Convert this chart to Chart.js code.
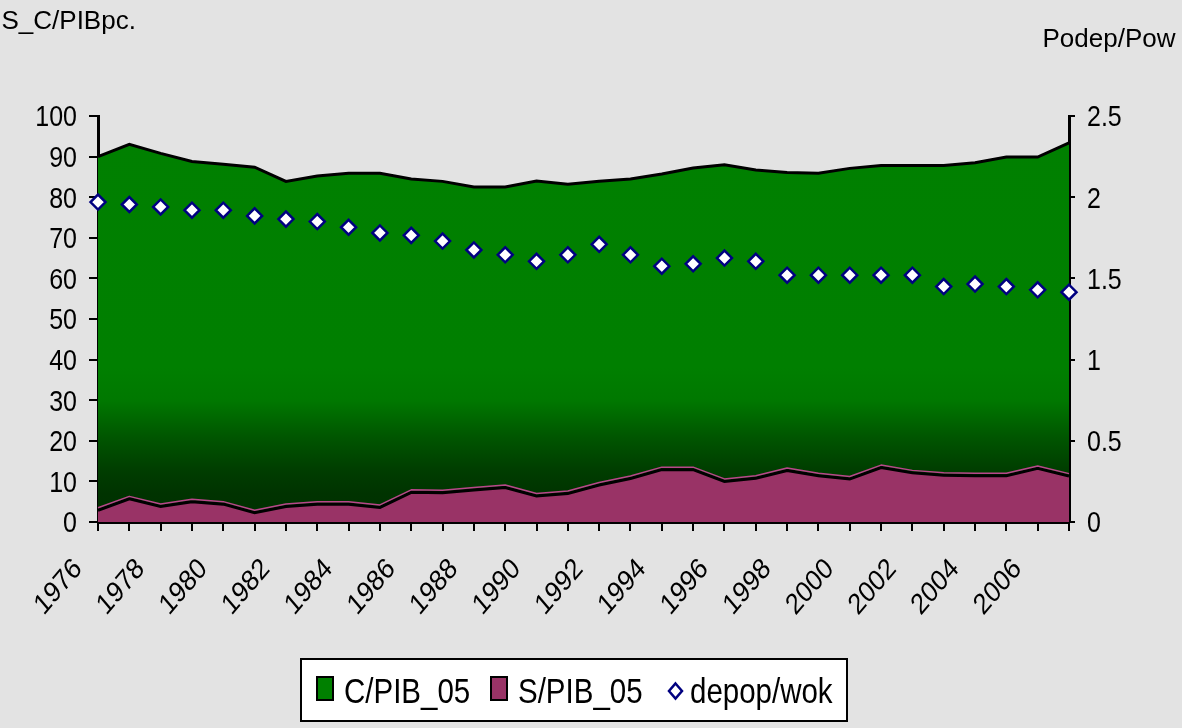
<!DOCTYPE html>
<html>
<head>
<meta charset="utf-8">
<script src="https://cdn.jsdelivr.net/npm/chart.js@4.4.1/dist/chart.umd.min.js"></script>
<style>
  html, body { margin: 0; padding: 0; background: #e3e3e3; }
  #wrap { position: relative; width: 1182px; height: 728px; overflow: hidden; background: #e3e3e3; }
  #c { position: absolute; left: 0; top: 0; }
  #ov { position: absolute; left: 0; top: 0; pointer-events: none; }
  #ov text { font-family: 'Liberation Sans', Arial, sans-serif; fill: #000; }
</style>
</head>
<body>
<div id="wrap">
  <canvas id="c" width="1182" height="728"></canvas>
  <svg id="ov" width="1182" height="728" xmlns="http://www.w3.org/2000/svg"></svg>
</div>
<script>
// ---- data ----
const years = ['1976','1977','1978','1979','1980','1981','1982','1983','1984','1985','1986','1987','1988','1989','1990','1991','1992','1993','1994','1995','1996','1997','1998','1999','2000','2001','2002','2003','2004','2005','2006','2007'];
const cPib = [90.0, 93.0, 90.8, 88.8, 88.1, 87.4, 83.9, 85.2, 85.9, 85.9, 84.5, 83.9, 82.5, 82.5, 84.0, 83.2, 83.9, 84.5, 85.7, 87.2, 88.0, 86.7, 86.1, 85.9, 87.1, 87.8, 87.8, 87.8, 88.5, 89.9, 89.9, 93.4];
const sPib = [2.9, 5.7, 3.8, 5.0, 4.4, 2.3, 3.8, 4.4, 4.4, 3.6, 7.3, 7.2, 7.9, 8.5, 6.4, 7.0, 9.1, 10.7, 12.9, 12.9, 10.0, 10.8, 12.7, 11.4, 10.6, 13.4, 12.1, 11.5, 11.4, 11.4, 13.2, 11.3];
const depop = [1.97, 1.955, 1.94, 1.92, 1.92, 1.885, 1.865, 1.85, 1.815, 1.78, 1.765, 1.73, 1.675, 1.645, 1.605, 1.645, 1.71, 1.645, 1.575, 1.59, 1.625, 1.605, 1.52, 1.52, 1.52, 1.52, 1.52, 1.45, 1.465, 1.45, 1.43, 1.415];
const leftTicks = [0, 10, 20, 30, 40, 50, 60, 70, 80, 90, 100];
const rightTicks = [0, 0.5, 1, 1.5, 2, 2.5];
const leftTitle = 'S_C/PIBpc.';
const rightTitle = 'Podep/Pow';
const seriesNames = ['C/PIB_05', 'S/PIB_05', 'depop/wok'];
const seriesColors = ['#008000', '#993366', '#000080'];

const FONT = "'Liberation Sans', Arial, sans-serif";
const STRETCH = 1.17;

function greenGradient(ctx) {
  const chart = ctx.chart;
  const area = chart.chartArea;
  if (!area) return seriesColors[0];
  const g = chart.ctx.createLinearGradient(0, area.top, 0, area.bottom);
  g.addColorStop(0, '#008000');
  g.addColorStop(0.62, '#007f00');
  g.addColorStop(0.7, '#007800');
  g.addColorStop(0.79, '#005600');
  g.addColorStop(0.87, '#003e00');
  g.addColorStop(0.93, '#003300');
  g.addColorStop(1, '#003000');
  return g;
}

// light rim along the top of the S area (as in the original), using the dataset's own point positions
const purpleRim = {
  id: 'purpleRim',
  afterDatasetDraw(chart, args) {
    if (args.index !== 1) return;
    const pts = args.meta.data;
    const ctx = chart.ctx;
    ctx.save();
    ctx.strokeStyle = '#b8478a';
    ctx.lineWidth = 1.5;
    ctx.lineJoin = 'round';
    ctx.beginPath();
    pts.forEach((p, i) => { if (i === 0) ctx.moveTo(p.x, p.y - 2.5); else ctx.lineTo(p.x, p.y - 2.5); });
    ctx.stroke();
    ctx.restore();
  }
};

// tick labels drawn at the scales' own pixel positions (slightly tall lettering like the original)
const stretchedLabels = {
  id: 'stretchedLabels',
  afterDraw(chart) {
    const ctx = chart.ctx;
    const area = chart.chartArea;
    const sx = chart.scales.x, sy = chart.scales.y, sy1 = chart.scales.y1;
    ctx.save();
    ctx.fillStyle = '#000';
    ctx.textBaseline = 'alphabetic';
    ctx.font = '25px ' + FONT;
    ctx.textAlign = 'right';
    leftTicks.forEach(v => {
      const y = sy.getPixelForValue(v);
      ctx.save(); ctx.translate(area.left - 21, y); ctx.scale(1, STRETCH);
      ctx.fillText(String(v), 0, 0.358 * 25); ctx.restore();
    });
    ctx.textAlign = 'left';
    rightTicks.forEach(v => {
      const y = sy1.getPixelForValue(v);
      ctx.save(); ctx.translate(area.right + 18, y); ctx.scale(1, STRETCH);
      ctx.fillText(String(v), 0, 0.358 * 25); ctx.restore();
    });
    ctx.font = '25px ' + FONT;
    ctx.textAlign = 'right';
    years.forEach((lab, i) => {
      if (i % 2 !== 0) return;
      const x = sx.getPixelForValue(i);
      ctx.save(); ctx.translate(x - 15, area.bottom + 48); ctx.scale(1, STRETCH); ctx.rotate(-Math.PI / 4);
      ctx.fillText(lab, 0, 0); ctx.restore();
    });
    ctx.restore();
  }
};

const chart = new Chart(document.getElementById('c'), {
  type: 'line',
  data: {
    labels: years,
    datasets: [
      {
        label: seriesNames[0], data: cPib, yAxisID: 'y', fill: 'origin',
        backgroundColor: greenGradient, borderColor: '#000', borderWidth: 3,
        pointRadius: 0, tension: 0, order: 2
      },
      {
        label: seriesNames[1], data: sPib, yAxisID: 'y', fill: 'origin',
        backgroundColor: seriesColors[1], borderColor: '#000', borderWidth: 3,
        pointRadius: 0, tension: 0, order: 1
      },
      {
        label: seriesNames[2], data: depop, yAxisID: 'y1', showLine: false,
        pointStyle: 'rectRot', pointRadius: 7.5,
        pointBackgroundColor: '#ffffff', pointBorderColor: seriesColors[2], pointBorderWidth: 2.5,
        order: 0
      }
    ]
  },
  options: {
    responsive: false,
    animation: false,
    layout: { padding: { top: 116, left: 0, right: 0, bottom: 0 } },
    plugins: { legend: { display: false }, tooltip: { enabled: false } },
    scales: {
      x: {
        type: 'category', offset: false,
        grid: { display: true, drawOnChartArea: false, color: '#000', lineWidth: 2, tickLength: 9 },
        border: { display: true, color: '#000', width: 3 },
        ticks: { display: false, autoSkip: false },
        afterFit: function (s) { s.height = 206; }
      },
      y: {
        position: 'left', min: 0, max: 100,
        afterBuildTicks: function (s) { s.ticks = leftTicks.map(v => ({ value: v })); },
        grid: { display: true, drawOnChartArea: false, color: '#000', lineWidth: 2, tickLength: 9 },
        border: { display: true, color: '#000', width: 3 },
        ticks: { display: false },
        afterFit: function (s) { s.width = 98; }
      },
      y1: {
        position: 'right', min: 0, max: 2.5,
        afterBuildTicks: function (s) { s.ticks = rightTicks.map(v => ({ value: v })); },
        grid: { display: true, drawOnChartArea: false, color: '#000', lineWidth: 2, tickLength: 6 },
        border: { display: true, color: '#000', width: 3 },
        ticks: { display: false },
        afterFit: function (s) { s.width = 113; }
      }
    }
  },
  plugins: [purpleRim, stretchedLabels]
});

// ---- titles and legend as SVG text ----
(function () {
  const ov = document.getElementById('ov');
  const NS = 'http://www.w3.org/2000/svg';
  function el(tag, attrs, txt) {
    const e = document.createElementNS(NS, tag);
    for (const k in attrs) e.setAttribute(k, attrs[k]);
    if (txt !== undefined) e.textContent = txt;
    ov.appendChild(e);
    return e;
  }
  el('text', { x: 1.5, y: 28.5, 'font-size': 26 }, leftTitle);
  el('text', { x: 1042.5, y: 46.5, 'font-size': 26 }, rightTitle);

  el('rect', { x: 301, y: 659, width: 546, height: 62, fill: '#fff', stroke: '#000', 'stroke-width': 2 });
  el('rect', { x: 317, y: 677, width: 16, height: 23, fill: seriesColors[0], stroke: '#000', 'stroke-width': 2 });
  el('text', { transform: 'translate(344,702.5) scale(1,1.19)', 'font-size': 29.5 }, seriesNames[0]);
  el('rect', { x: 491, y: 677, width: 16, height: 23, fill: seriesColors[1], stroke: '#000', 'stroke-width': 2 });
  el('text', { transform: 'translate(518,702.5) scale(1,1.19)', 'font-size': 29.5 }, seriesNames[1]);
  el('polygon', { points: '675.5,683.5 682,691 675.5,698.5 669,691', fill: '#fff', stroke: seriesColors[2], 'stroke-width': 2.5 });
  el('text', { transform: 'translate(690,702.5) scale(1,1.19)', 'font-size': 29.5 }, seriesNames[2]);
})();
</script>
</body>
</html>
